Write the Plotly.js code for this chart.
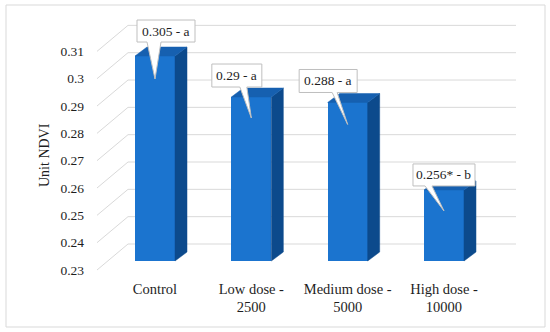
<!DOCTYPE html>
<html><head><meta charset="utf-8">
<script src="https://cdn.plot.ly/plotly-3.0.1.min.js"></script>
<style>html,body{margin:0;padding:0;background:#fff}#chart{width:550px;height:332px}</style>
</head><body><div id="chart"></div>
<script>
const categories = ['Control', 'Low dose -<br>2500', 'Medium dose -<br>5000', 'High dose -<br>10000'];
const ndviValues = [0.305, 0.29, 0.288, 0.256];
const valueLabels = ['0.305 - a', '0.29 - a', '0.288 - a', '0.256* - b'];
const yTickValues = [0.23, 0.24, 0.25, 0.26, 0.27, 0.28, 0.29, 0.3, 0.31];
const yTickLabels = ['0.23', '0.24', '0.25', '0.26', '0.27', '0.28', '0.29', '0.3', '0.31'];
const axisBase = 0.23;

// ---- geometry / style (pixels) ----
const W = 550, H = 332;
const X_RANGE = [-1.6091, 4.1005];
const Y_RANGE = [0.20402, 0.32550];
const PXX = W / (X_RANGE[1] - X_RANGE[0]);
const PXY = H / (Y_RANGE[1] - Y_RANGE[0]);
const dx = p => p / PXX, dy = p => p / PXY;
const xAt = p => X_RANGE[0] + p / PXX;
const BAR_W = dx(40), DEPTH_X = dx(12), DEPTH_Y = dy(9);
const LABEL_SHIFT = dy(9), BACK_SHIFT = dy(17);
const WALL_X0 = xAt(128), WALL_X1 = xAt(516), DIAG_X0 = xAt(97);
const FONT = 'Liberation Serif';
const TXT = '#1e1e1e';
const FRONT = '#1b74cf', SIDE = '#0c4a8c', TOPC = '#1660b0';
// callout geometry relative to bar centre/top: [left, right, bottomAbove, height, wedgeL, wedgeR, tipBelow]
const calloutGeom = [
  [-18, 40, 14, 22, -8, 6, 23],
  [-39.5, 10.5, 10, 23, -11.5, -4.5, 21],
  [-48.5, 9.5, 10, 23, -15.5, -10.5, 22],
  [-31, 31, 4, 22, -19, -12, 21]
];

const xs = categories.map((c, i) => i);
const traces = [];
const shapes = [];
const annotations = [];

// back-wall gridlines and floor diagonals
yTickValues.forEach(t => {
  shapes.push({type: 'line', layer: 'below', xref: 'x', yref: 'y',
    x0: WALL_X0, x1: WALL_X1, y0: t + BACK_SHIFT, y1: t + BACK_SHIFT,
    line: {color: '#d9d9d9', width: 1}});
  shapes.push({type: 'line', layer: 'below', xref: 'x', yref: 'y',
    x0: DIAG_X0, x1: WALL_X0, y0: t - LABEL_SHIFT, y1: t + BACK_SHIFT,
    line: {color: '#d9d9d9', width: 1}});
});
// outer border
shapes.push({type: 'rect', xref: 'paper', yref: 'paper', layer: 'below',
  x0: 6 / W, x1: 545 / W, y0: 5 / H, y1: 327 / H, line: {color: '#d9d9d9', width: 1}});

// front faces
traces.push({type: 'bar', x: xs, y: ndviValues.map(v => v - axisBase), base: axisBase,
  width: BAR_W, marker: {color: FRONT, line: {width: 0}}, hoverinfo: 'skip', showlegend: false});

// side and top faces
ndviValues.forEach((v, i) => {
  const r = i + BAR_W / 2, l = i - BAR_W / 2;
  traces.push({type: 'scatter', mode: 'lines', fill: 'toself', fillcolor: SIDE,
    line: {color: SIDE, width: 0.5},
    x: [r, r + DEPTH_X, r + DEPTH_X, r, r],
    y: [axisBase, axisBase + DEPTH_Y, v + DEPTH_Y, v, axisBase],
    hoverinfo: 'skip', showlegend: false});
  traces.push({type: 'scatter', mode: 'lines', fill: 'toself', fillcolor: TOPC,
    line: {color: TOPC, width: 0.5},
    x: [l, r, r + DEPTH_X, l + DEPTH_X, l],
    y: [v, v, v + DEPTH_Y, v + DEPTH_Y, v],
    hoverinfo: 'skip', showlegend: false});
});

// callouts
ndviValues.forEach((v, i) => {
  const g = calloutGeom[i];
  const L = i + dx(g[0]), R = i + dx(g[1]);
  const bot = v + dy(g[2]), top = bot + dy(g[3]);
  const wl = i + dx(g[4]), wr = i + dx(g[5]);
  const tipY = v - dy(g[6]);
  traces.push({type: 'scatter', mode: 'lines', fill: 'toself', fillcolor: '#ffffff',
    line: {color: '#bfbfbf', width: 1},
    x: [L, R, R, wr, i, wl, L, L],
    y: [top, top, bot, bot, tipY, bot, bot, top],
    hoverinfo: 'skip', showlegend: false});
  annotations.push({xref: 'x', yref: 'y', x: (L + R) / 2, y: (top + bot) / 2,
    text: valueLabels[i], showarrow: false, xanchor: 'center', yanchor: 'middle',
    font: {family: FONT, size: 13.5, color: TXT}});
});

// dummy trace for label axis
traces.push({type: 'scatter', x: [null], y: [null], yaxis: 'y2', hoverinfo: 'skip', showlegend: false});

annotations.push({xref: 'paper', yref: 'paper', x: 44 / W, y: (H - 155) / H,
  text: 'Unit NDVI', textangle: -90, showarrow: false, xanchor: 'center', yanchor: 'middle',
  font: {family: FONT, size: 14, color: TXT}});

const layout = {
  width: W, height: H,
  margin: {l: 0, r: 0, t: 0, b: 0, pad: 0},
  paper_bgcolor: '#ffffff', plot_bgcolor: 'rgba(0,0,0,0)',
  showlegend: false,
  font: {family: FONT, size: 13.5, color: TXT},
  xaxis: {range: X_RANGE, domain: [0, 1], anchor: 'free', position: (H - 278) / H,
    tickmode: 'array', tickvals: xs, ticktext: categories,
    showgrid: false, zeroline: false, showline: false, ticks: '',
    tickfont: {family: FONT, size: 14.5, color: TXT}, fixedrange: true},
  yaxis: {range: Y_RANGE, domain: [0, 1], showticklabels: false, showgrid: false,
    zeroline: false, showline: false, ticks: '', fixedrange: true},
  yaxis2: {range: [Y_RANGE[0] + LABEL_SHIFT, Y_RANGE[1] + LABEL_SHIFT], overlaying: 'y',
    anchor: 'free', position: 84 / W, side: 'left',
    tickmode: 'array', tickvals: yTickValues, ticktext: yTickLabels,
    showgrid: false, zeroline: false, showline: false, ticks: '',
    tickfont: {family: FONT, size: 13.5, color: TXT}, fixedrange: true},
  shapes: shapes,
  annotations: annotations,
  bargap: 0
};

Plotly.newPlot('chart', traces, layout, {staticPlot: true, displayModeBar: false});
</script>
</body></html>
